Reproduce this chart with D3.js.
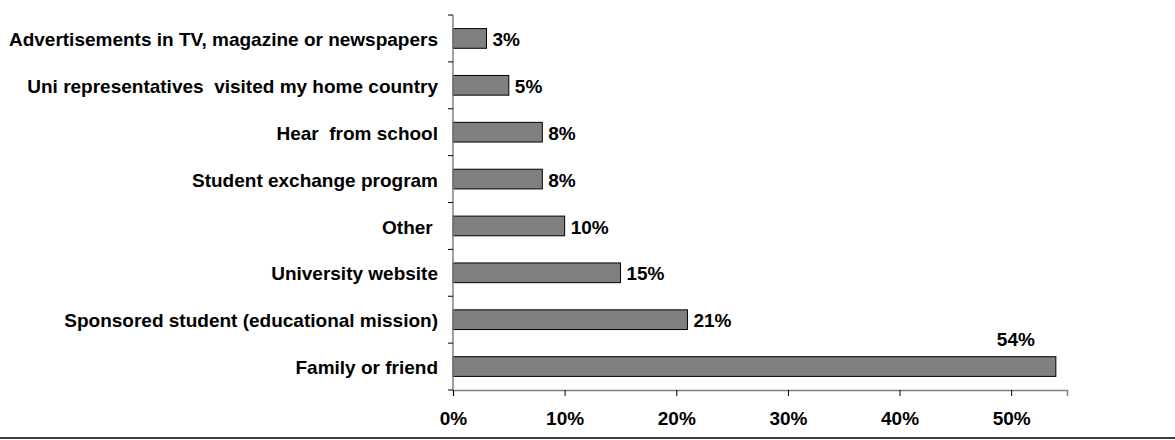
<!DOCTYPE html>
<html>
<head>
<meta charset="utf-8">
<script src="https://cdn.jsdelivr.net/npm/d3@7"></script>
<style>
  html, body { margin: 0; padding: 0; background: #fff; }
  svg { display: block; }
  text { font-family: "Liberation Sans", Arial, sans-serif; font-weight: bold; fill: #000; }
</style>
</head>
<body>
<svg id="chart" width="1175" height="440"></svg>
<script>
// How respondents heard about the university (share of respondents)
const categories = [
  "Advertisements in TV, magazine or newspapers",
  "Uni representatives  visited my home country",
  "Hear  from school",
  "Student exchange program",
  "Other ",
  "University website",
  "Sponsored student (educational mission)",
  "Family or friend"
];
const shares = [0.03, 0.05, 0.08, 0.08, 0.10, 0.15, 0.21, 0.54];
const xTickValues = [0, 0.1, 0.2, 0.3, 0.4, 0.5];

const svg = d3.select("#chart");
const margin = { left: 453, top: 15, right: 108, bottom: 50 };
const width = 1175, height = 440;
const fontSize = "19px";

const x = d3.scaleLinear()
  .domain([0, 0.55])
  .range([margin.left, width - margin.right]);

const y = d3.scaleBand()
  .domain(categories)
  .range([margin.top, height - margin.bottom])
  .paddingInner(0.58)
  .paddingOuter(0.29);

const fmt = d3.format(".0%");

// Bars
svg.append("g")
  .selectAll("rect")
  .data(categories)
  .join("rect")
  .attr("x", x(0))
  .attr("y", (d) => y(d))
  .attr("width", (d, i) => x(shares[i]) - x(0))
  .attr("height", y.bandwidth())
  .attr("fill", "#808080")
  .attr("stroke", "#000")
  .attr("stroke-width", 1);

// Value labels: beside the bar, or above it where the bar reaches the axis end
svg.append("g")
  .selectAll("text")
  .data(categories)
  .join("text")
  .attr("x", (d, i) => shares[i] > 0.5 ? x(shares[i]) - 40 : x(shares[i]) + 6)
  .attr("y", (d, i) => shares[i] > 0.5 ? y(d) - 17 : y(d) + y.bandwidth() / 2 + 1)
  .attr("dy", "0.35em")
  .attr("text-anchor", (d, i) => shares[i] > 0.5 ? "middle" : "start")
  .style("font-size", fontSize)
  .text((d, i) => fmt(shares[i]));

// Category axis (ticks between bands)
const yAxisG = svg.append("g");
yAxisG.append("line")
  .attr("x1", x(0)).attr("x2", x(0))
  .attr("y1", margin.top).attr("y2", height - margin.bottom)
  .attr("stroke", "#808080").attr("stroke-width", 1.5);
const bandStep = (height - margin.bottom - margin.top) / categories.length;
yAxisG.selectAll("line.tick")
  .data(d3.range(categories.length + 1))
  .join("line")
  .attr("class", "tick")
  .attr("x1", x(0) - 5).attr("x2", x(0))
  .attr("y1", (i) => margin.top + i * bandStep)
  .attr("y2", (i) => margin.top + i * bandStep)
  .attr("stroke", "#000").attr("stroke-width", 1);
yAxisG.selectAll("text")
  .data(categories)
  .join("text")
  .attr("x", x(0) - 15)
  .attr("y", (d) => y(d) + y.bandwidth() / 2 + 1)
  .attr("dy", "0.35em")
  .attr("text-anchor", "end")
  .style("font-size", fontSize)
  .style("white-space", "pre")
  .attr("xml:space", "preserve")
  .text((d) => d);

// Value axis
const xAxisG = svg.append("g")
  .attr("transform", `translate(0,${height - margin.bottom})`)
  .call(d3.axisBottom(x).tickValues(xTickValues).tickFormat(fmt).tickSize(6).tickPadding(16));
xAxisG.select(".domain").attr("stroke", "#808080").attr("stroke-width", 1.5);
xAxisG.selectAll(".tick line").attr("stroke", "#000");
xAxisG.selectAll(".tick text")
  .style("font-size", fontSize)
  .style("font-family", "'Liberation Sans', Arial, sans-serif")
  .style("font-weight", "bold");

// Bottom rule across the frame
svg.append("line")
  .attr("x1", 0).attr("x2", width)
  .attr("y1", 438).attr("y2", 438)
  .attr("stroke", "#000").attr("stroke-width", 1.5);
</script>
</body>
</html>
